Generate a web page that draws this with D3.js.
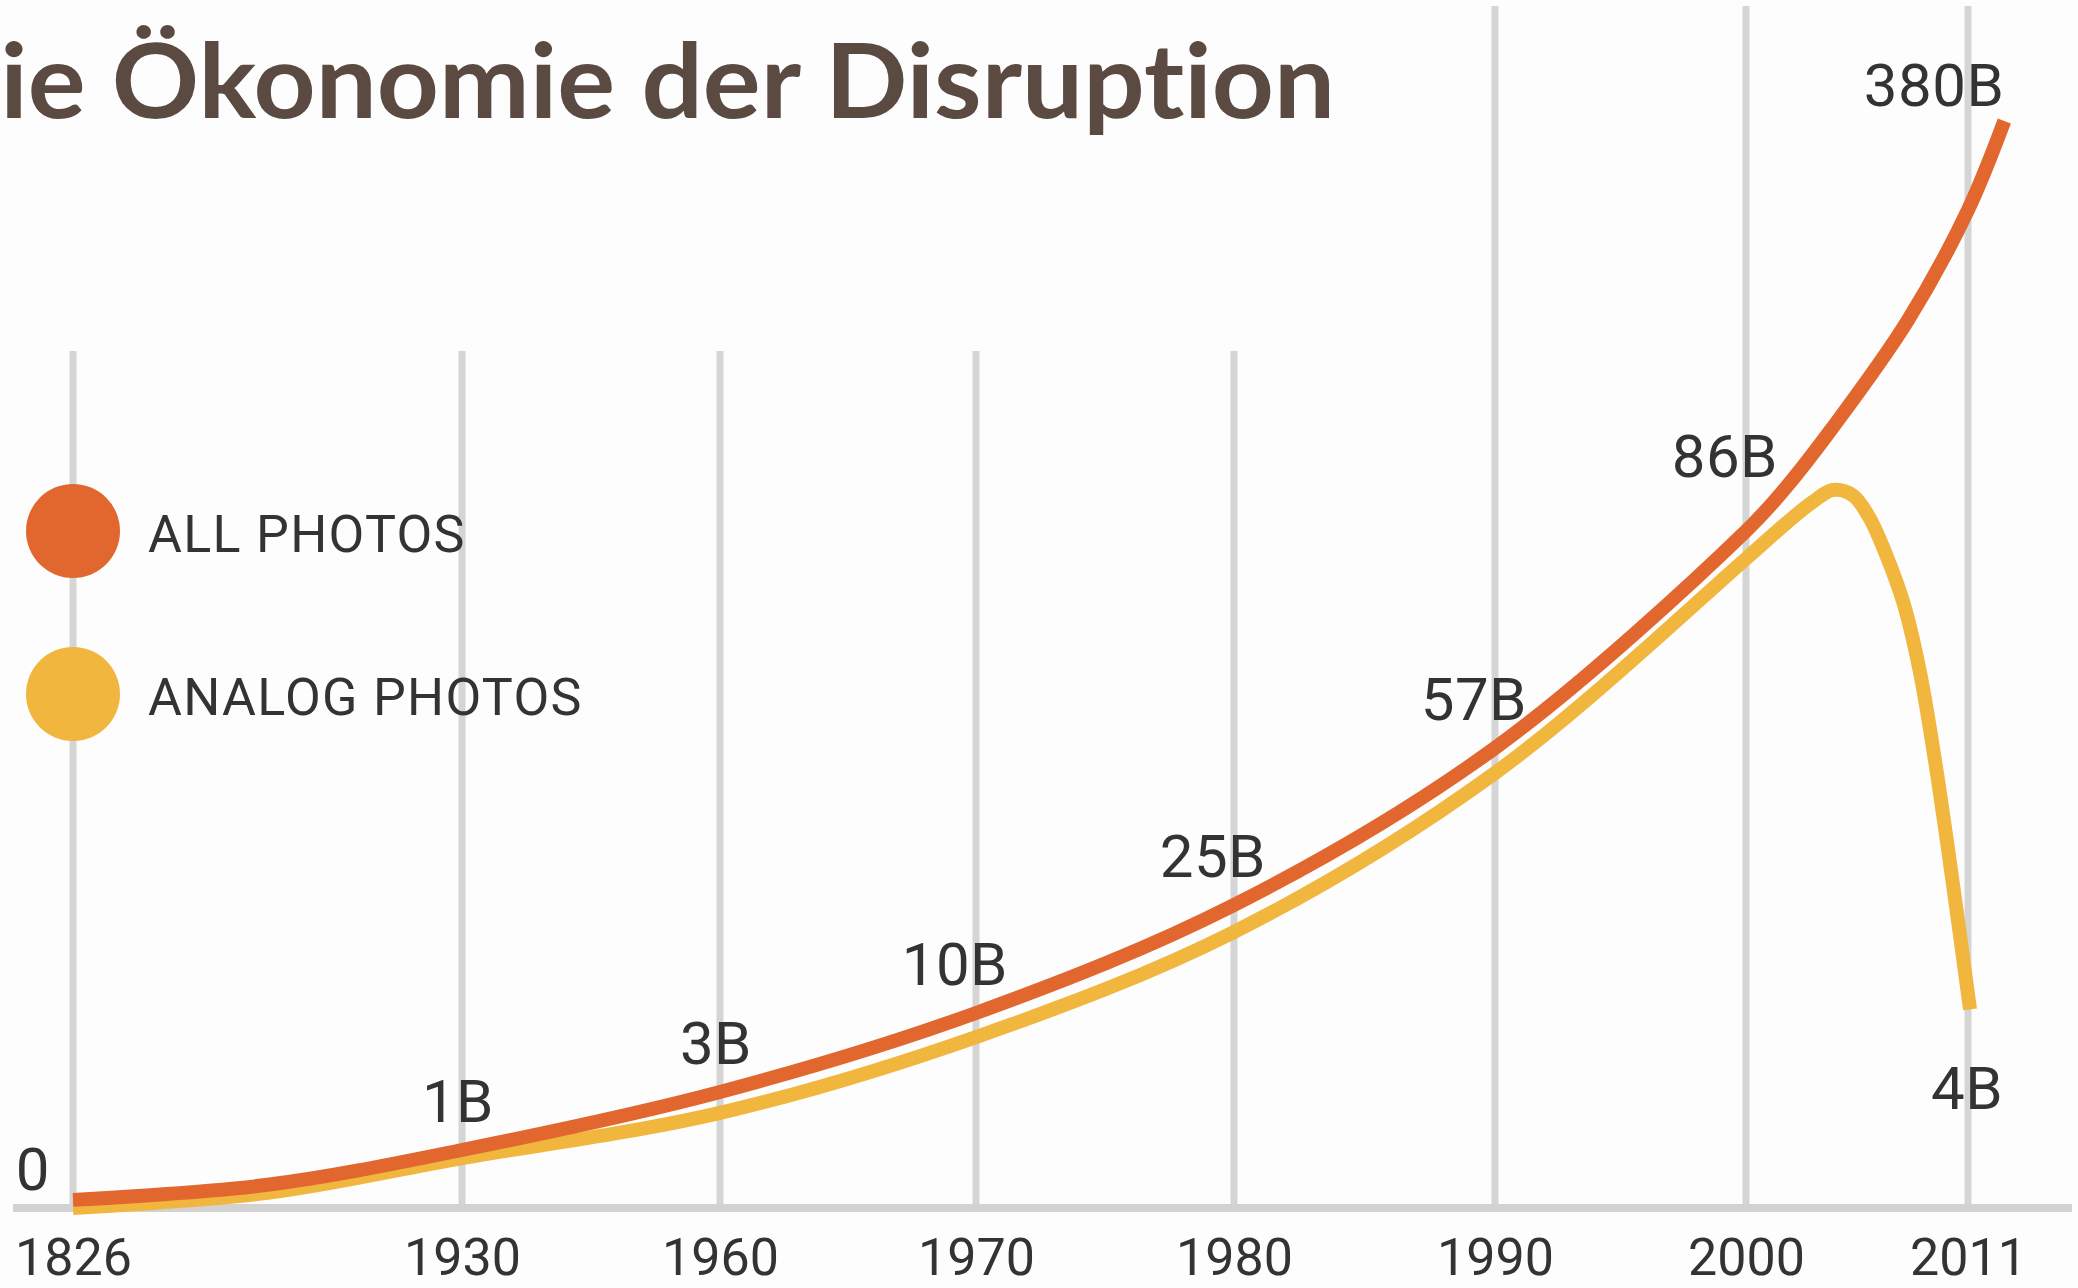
<!DOCTYPE html>
<html><head><meta charset="utf-8">
<script src="https://cdn.jsdelivr.net/npm/d3@7"></script>
<style>html,body{margin:0;padding:0;background:#fdfdfd;overflow:hidden}</style>
</head><body><svg id="chart" width="2078" height="1288"></svg>
<script>
// ---- data ----
const title = "Die Ökonomie der Disruption";
const tickYears = [1826, 1930, 1960, 1970, 1980, 1990, 2000, 2011];
const tickLabels = ["1826", "1930", "1960", "1970", "1980", "1990", "2000", "2011"];
const seriesNames = ["ALL PHOTOS", "ANALOG PHOTOS"];
const seriesColors = ["#e2672f", "#f0b63d"];
// photos taken per year, billions
const allYears  = [1826, 1878, 1930, 1960, 1970, 1980, 1990, 2000, 2002, 2004.2, 2008, 2011, 2012.8];
const allValues = [0.14, 0.40, 1, 3, 10, 25, 57, 86, 117.6, 158.4, 236.6, 316.2, 380];
const analogYears  = [1826, 1878, 1930, 1960, 1970, 1980, 1990, 2000, 2002, 2003.3, 2004.3, 2005.3, 2006.1, 2006.9, 2007.8, 2008.6, 2009.4, 2010.3, 2011.1];
const analogValues = [0, 0.26, 0.86, 2.28, 7.87, 21.25, 51.9, 82.3, 91.7, 106.8, 115.4, 111.5, 96.0, 83.1, 76.4, 67.4, 53.5, 27.9, 10.5];
// value annotations
const labelTexts  = ["0", "1B", "3B", "10B", "25B", "57B", "86B", "380B", "4B"];
const labelYears  = [1826, 1930, 1960, 1970, 1980, 1990, 2000, 2012.8, 2011.1];
const labelSeries = [0, 0, 0, 0, 0, 0, 0, 0, 1];
// value stops of the (non-linear) vertical scale
const yStops = [0, 1, 3, 10, 25, 57, 86, 380];

// ---- layout ----
const W = 2078, H = 1288, baseY = 1208;
const xRange = [73, 462, 720, 976, 1234, 1495, 1746, 1968];
const stopHeights = [0, 58, 116, 195, 303, 460, 677, 1087];
const labelNudge = { "0": [-23, -10], "86B": [32, -54], "380B": [0, -15], "4B": [33, 100] };
const textColor = "#333333";

const svg = d3.select("#chart");
svg.append("rect").attr("width", W).attr("height", H).attr("fill", "#fdfdfd");

const x = d3.scaleLinear().domain(tickYears).range(xRange);
const y = d3.scaleLinear().domain(yStops).range(stopHeights.map(h => baseY - h));

// grid lines
svg.append("g").selectAll("line").data(tickYears).join("line")
  .attr("x1", d => x(d)).attr("x2", d => x(d))
  .attr("y1", d => d >= 1990 ? 6 : 351).attr("y2", baseY)
  .attr("stroke", "#d5d5d5").attr("stroke-width", 7);

// baseline
svg.append("line").attr("x1", 13).attr("x2", 2072).attr("y1", baseY).attr("y2", baseY)
  .attr("stroke", "#d2d2d2").attr("stroke-width", 8);

// x axis labels
const axis = d3.axisBottom(x).tickValues(tickYears).tickFormat((d, i) => tickLabels[i]).tickSize(0);
const gAxis = svg.append("g").attr("transform", `translate(0,${baseY})`).call(axis);
gAxis.select(".domain").remove();
gAxis.selectAll("text").attr("y", 67).attr("dy", 0)
  .attr("font-family", "Roboto").attr("font-size", 52).attr("fill", textColor);

// title (its first letter runs off the left edge, as in the original)
const tt = svg.append("text").attr("font-family", "Lato").attr("font-weight", 700)
  .attr("font-size", 103).attr("fill", "#5a4a42")
  .style("font-variant-ligatures", "none").style("font-feature-settings", "'liga' 0")
  .text(title);
const tmp = svg.append("text").attr("font-family", "Lato").attr("font-weight", 700)
  .attr("font-size", 103).style("font-variant-ligatures", "none")
  .style("font-feature-settings", "'liga' 0").text(title.slice(1));
const restW = tmp.node().getComputedTextLength();
tmp.remove();
const sx = 1335 / restW;
tt.attr("text-anchor", "end").attr("transform", `translate(1335,118) scale(${sx},1)`);

// lines
const line = d3.line().x(d => x(d[0])).y(d => y(d[1])).curve(d3.curveCatmullRom.alpha(0.5));
const series = [
  allYears.map((yr, i) => [yr, allValues[i]]),
  analogYears.map((yr, i) => [yr, analogValues[i]])
];
[1, 0].forEach(k => {
  svg.append("path").datum(series[k]).attr("d", line)
    .attr("fill", "none").attr("stroke", seriesColors[k]).attr("stroke-width", 14)
    .attr("stroke-linecap", "butt").attr("stroke-linejoin", "round");
});

// value labels
labelTexts.forEach((t, i) => {
  const s = series[labelSeries[i]];
  const pt = s.find(p => p[0] === labelYears[i]);
  const nd = labelNudge[t] || [32, -28];
  svg.append("text").attr("x", x(pt[0]) + nd[0]).attr("y", y(pt[1]) + nd[1])
    .attr("text-anchor", "end").attr("font-family", "Roboto").attr("font-size", 60)
    .attr("letter-spacing", 0.5).attr("fill", textColor).text(t);
});

// legend
const legY = [531, 694];
seriesNames.forEach((n, i) => {
  svg.append("circle").attr("cx", 73).attr("cy", legY[i]).attr("r", 47).attr("fill", seriesColors[i]);
  svg.append("text").attr("x", 148).attr("y", legY[i] + 21).attr("font-family", "Roboto")
    .attr("font-size", 52).attr("letter-spacing", 1.3).attr("fill", textColor).text(n);
});
</script>
</body></html>
